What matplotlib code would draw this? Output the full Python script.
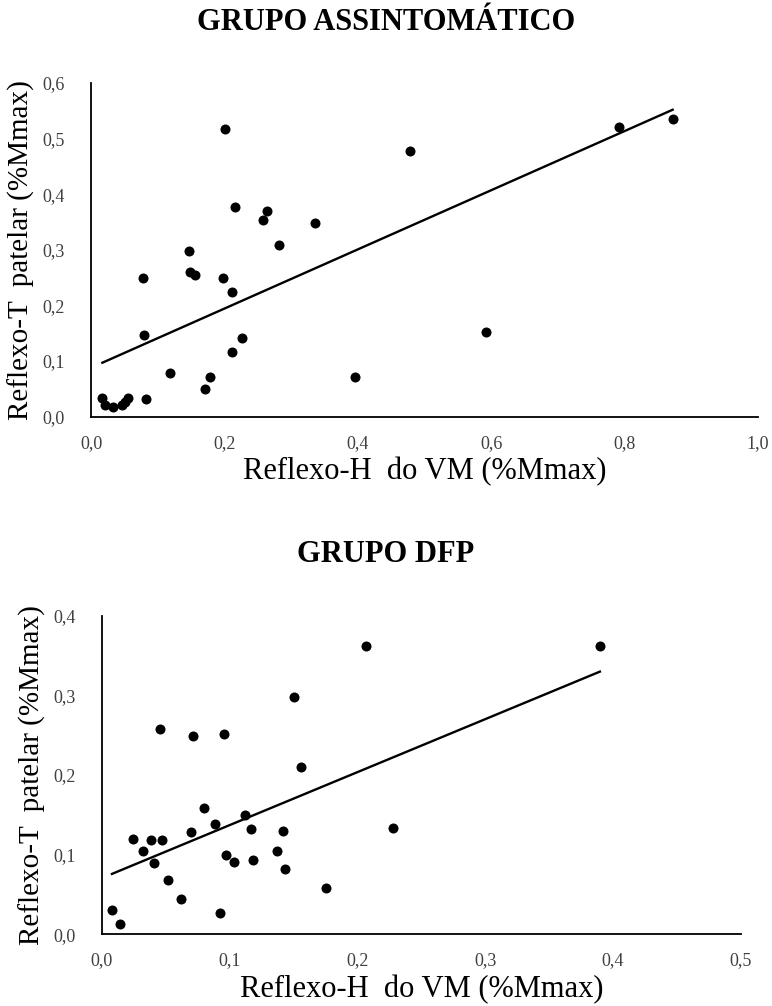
import numpy as np
import matplotlib
matplotlib.use('Agg')
import matplotlib.pyplot as plt
from matplotlib.ticker import FuncFormatter

plt.rcParams['font.family'] = ['Liberation Serif', 'DejaVu Serif']

# GRUPO ASSINTOMATICO: Reflexo-H do VM (x) vs Reflexo-T patelar (y)
assint_x = [0.201, 0.478, 0.216, 0.264, 0.258, 0.336, 0.282, 0.147, 0.148, 0.156,
            0.078, 0.198, 0.212, 0.080, 0.227, 0.212, 0.118, 0.179, 0.396, 0.171,
            0.083, 0.017, 0.021, 0.033, 0.046, 0.051, 0.055, 0.792, 0.872, 0.592]
assint_y = [0.517, 0.478, 0.377, 0.369, 0.354, 0.348, 0.309, 0.298, 0.260, 0.254,
            0.250, 0.250, 0.225, 0.146, 0.141, 0.116, 0.079, 0.072, 0.072, 0.050,
            0.031, 0.033, 0.021, 0.018, 0.021, 0.026, 0.033, 0.521, 0.536, 0.152]
assint_trend = (0.532, 0.088)  # slope, intercept

# GRUPO DFP
dfp_x = [0.207, 0.150, 0.0455, 0.071, 0.0956, 0.156, 0.0797, 0.0886, 0.1118, 0.1165,
         0.142, 0.0695, 0.0245, 0.0384, 0.047, 0.0324, 0.1366, 0.097, 0.1037, 0.118,
         0.0407, 0.1432, 0.052, 0.0617, 0.1755, 0.092, 0.0078, 0.0143, 0.2275, 0.3897]
dfp_y = [0.3615, 0.298, 0.258, 0.249, 0.2515, 0.210, 0.159, 0.138, 0.150, 0.132,
         0.130, 0.128, 0.119, 0.118, 0.118, 0.1046, 0.105, 0.0996, 0.0908, 0.0933,
         0.0895, 0.0818, 0.068, 0.0443, 0.0585, 0.0268, 0.0305, 0.0125, 0.1336, 0.3615]
dfp_trend = (0.665, 0.0706)

comma = FuncFormatter(lambda v, p: ('%.1f' % v).replace('.', ','))


def draw(ax, x, y, trend, xmax, ymax, xstep):
    ax.scatter(x, y, s=52, color='black', zorder=3, linewidths=0)
    xs = np.array([min(x), max(x)])
    ax.plot(xs, trend[0] * xs + trend[1], color='black', lw=1.7)
    ax.set_xlim(0, xmax)
    ax.set_ylim(0, ymax)
    ax.set_xticks(np.arange(0, xmax + 1e-9, xstep))
    ax.set_yticks(np.arange(0, ymax + 1e-9, 0.1))
    ax.xaxis.set_major_formatter(comma)
    ax.yaxis.set_major_formatter(comma)
    for s in ['top', 'right']:
        ax.spines[s].set_visible(False)
    for s in ['left', 'bottom']:
        ax.spines[s].set_linewidth(1.3)
    ax.tick_params(length=0, labelsize=13, labelcolor='#404040', pad=13)
    ax.tick_params(axis='y', pad=19)
    ax.set_xlabel('Reflexo-H  do VM (%Mmax)', fontsize=22, labelpad=4)
    ax.set_ylabel('Reflexo-T  patelar (%Mmax)', fontsize=21, labelpad=5)


fig = plt.figure(figsize=(7.72, 10.06), dpi=100)
ax1 = fig.add_axes([0.1179, 0.5858, 0.864, 0.3317])
ax2 = fig.add_axes([0.1321, 0.0713, 0.8275, 0.3167])

draw(ax1, assint_x, assint_y, assint_trend, 1.0, 0.6, 0.2)
draw(ax2, dfp_x, dfp_y, dfp_trend, 0.5, 0.4, 0.1)

fig.text(0.5, 1 - 23 / 1006, 'GRUPO ASSINTOMÁTICO', ha='center', va='center',
         fontsize=22, fontweight='bold')
fig.text(0.5, 1 - 555 / 1006, 'GRUPO DFP', ha='center', va='center',
         fontsize=22, fontweight='bold')

fig.savefig('out.png', dpi=100)
